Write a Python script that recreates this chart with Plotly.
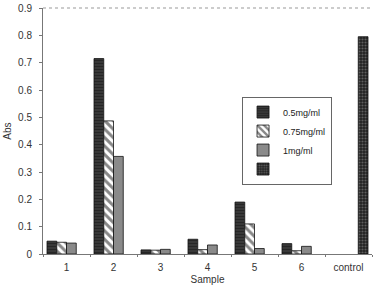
import plotly.graph_objects as go

categories = ["1", "2", "3", "4", "5", "6", "control"]
s_05 = [0.047, 0.715, 0.015, 0.054, 0.19, 0.038, None]
s_075 = [0.043, 0.487, 0.014, 0.016, 0.11, 0.012, None]
s_1 = [0.040, 0.357, 0.017, 0.033, 0.02, 0.028, None]
s_ctrl = [None, None, None, None, None, None, 0.795]
names = ["0.5mg/ml", "0.75mg/ml", "1mg/ml", " "]
y_ticks = [0, 0.1, 0.2, 0.3, 0.4, 0.5, 0.6, 0.7, 0.8, 0.9]

fig = go.Figure()
line = dict(color="#111", width=0.8)
fig.add_trace(go.Bar(x=categories, y=s_05, name=names[0],
                     marker=dict(color="#3a3a3a", line=line,
                                 pattern=dict(shape="-", fgcolor="#111", size=3, solidity=0.4))))
fig.add_trace(go.Bar(x=categories, y=s_075, name=names[1],
                     marker=dict(color="white", line=line,
                                 pattern=dict(shape="\\", fgcolor="#111", size=6, solidity=0.5))))
fig.add_trace(go.Bar(x=categories, y=s_1, name=names[2],
                     marker=dict(color="#8a8a8a", line=line)))
fig.add_trace(go.Bar(x=categories, y=s_ctrl, name=names[3],
                     marker=dict(color="#222", line=line,
                                 pattern=dict(shape=".", fgcolor="#999", size=3, solidity=0.4))))

fig.update_layout(
    width=376, height=285,
    margin=dict(l=43, r=4, t=8, b=31),
    paper_bgcolor="white", plot_bgcolor="white",
    barmode="group", bargap=0.17, bargroupgap=0,
    font=dict(family="Liberation Sans, Arial, sans-serif", size=10, color="#333"),
    showlegend=True,
    legend=dict(x=0.605, y=0.64, xanchor="left", yanchor="top",
                bordercolor="#666", borderwidth=1, bgcolor="white",
                font=dict(size=9, color="#222"), tracegroupgap=0,
                itemwidth=30, entrywidth=50),
    xaxis=dict(showline=True, linecolor="#777", linewidth=1, automargin=False,
               ticks="outside", ticklen=2, tickcolor="#777", tickson="boundaries",
               ticklabelstandoff=4,
               title=dict(text="Sample", standoff=8, font=dict(size=10, color="#333")),
               range=[-0.5, 6.5]),
    yaxis=dict(range=[0, 0.9], tickvals=y_ticks, ticktext=["0"] + [f"{v:.1f}" for v in y_ticks[1:]],
               showline=True, linecolor="#777", linewidth=1, showgrid=False, zeroline=False,
               automargin=False,
               ticks="outside", ticklen=3, tickcolor="#777", ticklabelstandoff=5,
               title=dict(text="Abs", standoff=4, font=dict(size=10, color="#333"))),
)
fig.add_shape(type="line", xref="paper", yref="paper", x0=0, x1=1, y0=1, y1=1,
              line=dict(color="#999", width=1, dash="dot"))
fig.write_html("out.html")
